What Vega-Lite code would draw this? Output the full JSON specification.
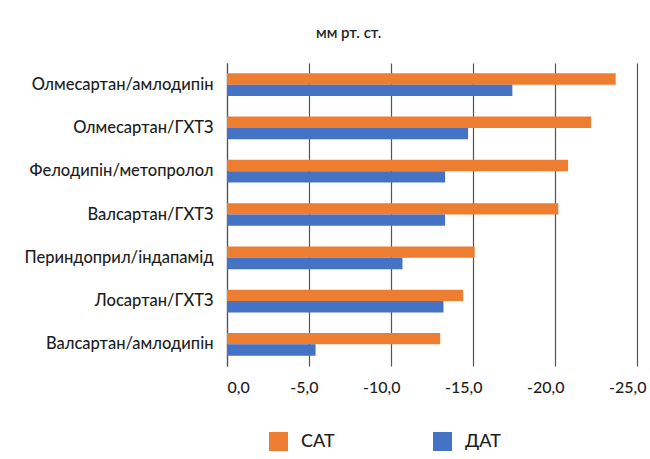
{
  "$schema": "https://vega.github.io/schema/vega-lite/v6.json",
  "width": 410,
  "height": 303,
  "autosize": {"type": "none"},
  "padding": {"left": 227, "top": 63, "right": 13, "bottom": 93},
  "background": "#ffffff",
  "title": {
    "text": "мм рт. ст.",
    "anchor": "start",
    "frame": "group",
    "orient": "top",
    "dx": 89,
    "offset": 10,
    "baseline": "alphabetic",
    "font": "Lato",
    "fontSize": 15,
    "fontWeight": 600,
    "color": "#222222"
  },
  "data": {
    "values": [
      {"combo": "Олмесартан/амлодипін", "series": "САТ", "value": -23.7},
      {"combo": "Олмесартан/амлодипін", "series": "ДАТ", "value": -17.4},
      {"combo": "Олмесартан/ГХТЗ", "series": "САТ", "value": -22.2},
      {"combo": "Олмесартан/ГХТЗ", "series": "ДАТ", "value": -14.7},
      {"combo": "Фелодипін/метопролол", "series": "САТ", "value": -20.8},
      {"combo": "Фелодипін/метопролол", "series": "ДАТ", "value": -13.3},
      {"combo": "Валсартан/ГХТЗ", "series": "САТ", "value": -20.2},
      {"combo": "Валсартан/ГХТЗ", "series": "ДАТ", "value": -13.3},
      {"combo": "Периндоприл/індапамід", "series": "САТ", "value": -15.1},
      {"combo": "Периндоприл/індапамід", "series": "ДАТ", "value": -10.7},
      {"combo": "Лосартан/ГХТЗ", "series": "САТ", "value": -14.4},
      {"combo": "Лосартан/ГХТЗ", "series": "ДАТ", "value": -13.2},
      {"combo": "Валсартан/амлодипін", "series": "САТ", "value": -13.0},
      {"combo": "Валсартан/амлодипін", "series": "ДАТ", "value": -5.4}
    ]
  },
  "mark": {"type": "bar"},
  "encoding": {
    "y": {
      "field": "combo",
      "type": "nominal",
      "sort": null,
      "scale": {"paddingInner": 0.476, "paddingOuter": 0.238},
      "axis": {
        "title": null,
        "ticks": false,
        "domain": true,
        "domainColor": "#555555",
        "domainWidth": 1.2,
        "labelPadding": 14,
        "labelFont": "Lato",
        "labelFontSize": 16.5,
        "labelFontWeight": 500,
        "labelColor": "#1e1e1e",
        "labelLimit": 300,
        "encode": {
          "labels": {
            "update": {
              "dy": {"signal": "4.5 - 1.6 * indexof(['Олмесартан/амлодипін','Олмесартан/ГХТЗ','Фелодипін/метопролол','Валсартан/ГХТЗ','Периндоприл/індапамід','Лосартан/ГХТЗ','Валсартан/амлодипін'], datum.value)"}
            }
          }
        }
      }
    },
    "yOffset": {
      "field": "series",
      "type": "nominal",
      "sort": ["САТ", "ДАТ"],
      "scale": {"paddingInner": 0, "paddingOuter": 0}
    },
    "x": {
      "field": "value",
      "type": "quantitative",
      "scale": {"domain": [-25, 0], "reverse": true, "nice": false},
      "axis": {
        "title": null,
        "values": [0, -5, -10, -15, -20, -25],
        "grid": true,
        "gridColor": "#555555",
        "gridWidth": 1.2,
        "domain": false,
        "ticks": false,
        "labelPadding": 13,
        "labelFont": "Lato",
        "labelFontSize": 16,
        "labelFontWeight": 500,
        "labelColor": "#1e1e1e",
        "labelExpr": "datum.value + ',0'",
        "labelAlign": {"condition": {"test": "datum.value === 0", "value": "left"}, "value": "right"},
        "labelOffset": {"condition": {"test": "datum.value === 0", "value": 0}, "value": 9}
      }
    },
    "color": {
      "field": "series",
      "type": "nominal",
      "sort": ["САТ", "ДАТ"],
      "scale": {"domain": ["САТ", "ДАТ"], "range": ["#ED7D31", "#4472C4"]},
      "legend": {
        "title": null,
        "orient": "none",
        "direction": "horizontal",
        "legendX": 42,
        "legendY": 369,
        "padding": 0,
        "symbolType": "square",
        "symbolSize": 361,
        "symbolStrokeWidth": 0,
        "symbolOpacity": 1,
        "labelFont": "Lato",
        "labelFontSize": 18,
        "labelFontWeight": 500,
        "labelColor": "#1e1e1e",
        "labelOffset": 13,
        "columnPadding": 98
      }
    }
  },
  "config": {
    "view": {"stroke": null},
    "font": "Lato"
  }
}
